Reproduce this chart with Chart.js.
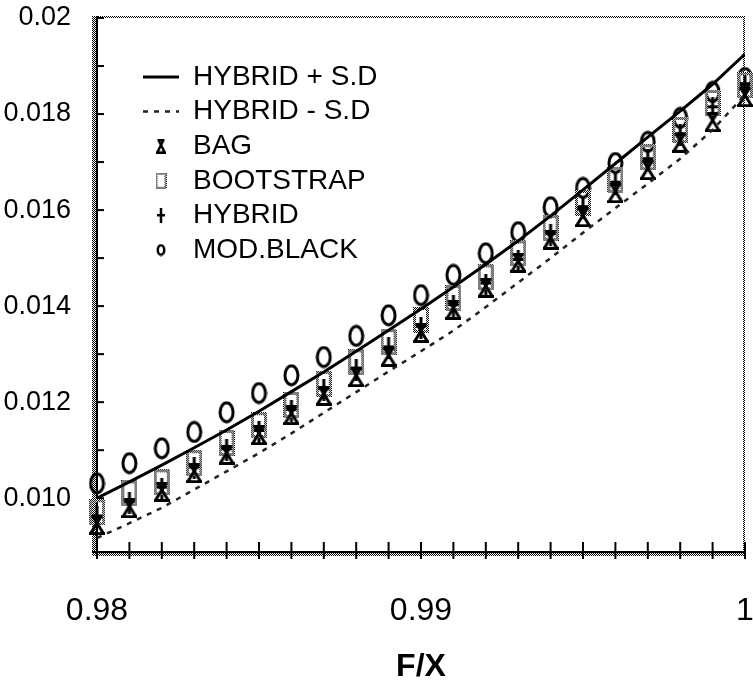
<!DOCTYPE html>
<html>
<head>
<meta charset="utf-8">
<script src="https://cdn.jsdelivr.net/npm/chart.js@4.4.0/dist/chart.umd.min.js"></script>
<style>
  html, body { margin: 0; padding: 0; background: #fff; overflow: hidden; }
</style>
</head>
<body>
<canvas id="chart" width="753" height="681"></canvas>
<script>
// values
const fxValues = [0.980, 0.981, 0.982, 0.983, 0.984, 0.985, 0.986, 0.987, 0.988, 0.989, 0.990,
                  0.991, 0.992, 0.993, 0.994, 0.995, 0.996, 0.997, 0.998, 0.999, 1.000];
const hybridPlusSD = [0.01000, 0.01034, 0.01069, 0.01105, 0.01142, 0.01181, 0.01222, 0.01263, 0.01306, 0.01350, 0.01394,
                      0.01440, 0.01487, 0.01536, 0.01588, 0.01642, 0.01697, 0.01752, 0.01806, 0.01862, 0.01925];
const hybridMinusSD = [0.00917, 0.00948, 0.00980, 0.01018, 0.01056, 0.01094, 0.01135, 0.01178, 0.01221, 0.01264, 0.01306,
                       0.01349, 0.01398, 0.01449, 0.01500, 0.01553, 0.01604, 0.01655, 0.01707, 0.01767, 0.01840];
const bagValues = [0.00944, 0.00979, 0.01013, 0.01052, 0.01090, 0.01131, 0.01173, 0.01213, 0.01252, 0.01294, 0.01344,
                   0.01392, 0.01438, 0.01490, 0.01538, 0.01585, 0.01635, 0.01683, 0.01740, 0.01783, 0.01835];
const bootstrapValues = [0.00971, 0.01010, 0.01033, 0.01073, 0.01115, 0.01152, 0.01194, 0.01238, 0.01283, 0.01325, 0.01371,
                         0.01417, 0.01460, 0.01510, 0.01563, 0.01615, 0.01663, 0.01710, 0.01767, 0.01823, 0.01860];
const hybridValues = [0.00960, 0.00990, 0.01020, 0.01062, 0.01100, 0.01138, 0.01182, 0.01225, 0.01268, 0.01312, 0.01355,
                      0.01400, 0.01445, 0.01494, 0.01548, 0.01604, 0.01655, 0.01704, 0.01756, 0.01812, 0.01860];
const modBlackValues = [0.01031, 0.01073, 0.01104, 0.01138, 0.01179, 0.01219, 0.01256, 0.01294, 0.01338, 0.01381, 0.01423,
                        0.01465, 0.01510, 0.01554, 0.01606, 0.01646, 0.01698, 0.01742, 0.01792, 0.01846, 0.01875];
const seriesNames = ['HYBRID + S.D', 'HYBRID - S.D', 'BAG', 'BOOTSTRAP', 'HYBRID', 'MOD.BLACK'];

const FONT = "'Liberation Sans', Arial, Helvetica, sans-serif";

function toPoints(ys) {
    return ys.map(function (y, i) { return { x: fxValues[i], y: y }; });
}

function isMult(v, step) {
    return Math.abs(v / step - Math.round(v / step)) < 1e-6;
}

// 2x2 dither, gives the grey "screened" look of the scanned frame
const checker = (function () {
    const c = document.createElement('canvas');
    c.width = 2; c.height = 2;
    const g = c.getContext('2d');
    g.fillStyle = '#fff'; g.fillRect(0, 0, 2, 2);
    g.fillStyle = '#000'; g.fillRect(0, 0, 1, 1); g.fillRect(1, 1, 1, 1);
    return c;
})();

function icon(w, h, paint) {
    const c = document.createElement('canvas');
    c.width = w; c.height = h;
    paint(c.getContext('2d'), w, h);
    return c;
}

function ovalMark(w, h, lw) {
    return icon(w, h, function (g) {
        g.strokeStyle = '#000'; g.lineWidth = lw;
        g.beginPath();
        g.ellipse(w / 2, h / 2, w / 2 - lw / 2 - 0.5, h / 2 - lw / 2 - 0.5, 0, 0, Math.PI * 2);
        g.stroke();
    });
}

function boxMark(w, h, lw) {
    return icon(w, h, function (g) {
        g.strokeStyle = g.createPattern(checker, 'repeat');
        g.lineWidth = lw;
        g.strokeRect(lw / 2, lw / 2, w - lw, h - lw);
    });
}

function plusMark(w, h, lw) {
    return icon(w, h, function (g) {
        g.fillStyle = '#000';
        g.fillRect((w - lw) / 2, 0, lw, h);
        g.fillRect(0, Math.round(h * 0.38), w, lw);
    });
}

function bagMark(w, h, lw) {
    return icon(w, h, function (g) {
        g.strokeStyle = '#000'; g.lineWidth = lw;
        g.beginPath();
        g.moveTo(w * 0.15, lw / 2); g.lineTo(w * 0.85, lw / 2);
        g.moveTo(w * 0.25, lw / 2); g.lineTo(w - lw / 2, h - lw / 2);
        g.moveTo(w * 0.75, lw / 2); g.lineTo(lw / 2, h - lw / 2);
        g.moveTo(0, h - lw / 2); g.lineTo(w, h - lw / 2);
        g.stroke();
    });
}

const plotMarks = [null, null, bagMark(16, 20, 3), boxMark(16, 26, 3), plusMark(14, 22, 3), ovalMark(17, 23, 3)];
const legendMarks = ['line', 'line', bagMark(10, 15, 2.5), boxMark(11, 16, 2), plusMark(8, 15, 2.5), ovalMark(10, 13, 2.5)];

const frame = {
    id: 'frame',
    afterLayout(chart) {
        // put the key inside the plot, upper left
        const lg = chart.legend;
        lg.left = 136.4;
        lg.top = 56.4;
        lg.right = chart.chartArea.right;
        lg.bottom = chart.chartArea.bottom;
    },
    beforeDatasetsDraw(chart) {
        const { ctx, chartArea: a, scales } = chart;
        ctx.save();
        ctx.fillStyle = ctx.createPattern(checker, 'repeat');
        ctx.fillRect(a.left - 5, a.top - 2, 5, a.bottom - a.top + 6);
        ctx.fillRect(a.left - 5, a.bottom, a.right - a.left + 5, 4);
        ctx.fillRect(a.left, a.top - 2, a.right - a.left, 2);
        ctx.fillRect(a.right - 2, a.top - 2, 2, a.bottom - a.top + 2);
        ctx.fillStyle = '#000';
        ctx.fillRect(a.left - 1, a.top - 2, 2, a.bottom - a.top + 4);
        ctx.fillRect(a.left - 5, a.bottom - 1, a.right - a.left + 5, 2);
        scales.x.ticks.forEach(function (t) {
            if (!isMult(t.value, 0.001)) return;
            const px = scales.x.getPixelForValue(t.value);
            ctx.fillRect(px - 1, a.bottom - 10, 2, 17);
        });
        scales.y.ticks.forEach(function (t) {
            if (!isMult(t.value, 0.001)) return;
            const py = scales.y.getPixelForValue(t.value);
            ctx.fillRect(a.left, py - 1, 7, 2);
        });
        ctx.restore();
    }
};

const datasets = [
    {
        label: seriesNames[0], data: toPoints(hybridPlusSD),
        borderColor: '#000', borderWidth: 3, pointRadius: 0, pointStyle: 'line'
    },
    {
        label: seriesNames[1], data: toPoints(hybridMinusSD),
        borderColor: '#222', borderWidth: 2.5, borderDash: [5, 6], pointRadius: 0, pointStyle: 'line'
    }
];
[bagValues, bootstrapValues, hybridValues, modBlackValues].forEach(function (vals, k) {
    datasets.push({
        label: seriesNames[k + 2], data: toPoints(vals),
        showLine: false, pointStyle: plotMarks[k + 2], pointRadius: 8,
        borderWidth: 0, clip: false
    });
});

new Chart(document.getElementById('chart'), {
    type: 'line',
    data: { datasets: datasets },
    plugins: [frame],
    options: {
        responsive: false,
        animation: false,
        layout: { padding: { top: 18, right: 0, bottom: 0, left: 0 } },
        plugins: {
            tooltip: { enabled: false },
            legend: {
                position: 'chartArea',
                align: 'start',
                labels: {
                    usePointStyle: true,
                    pointStyleWidth: 36,
                    padding: 6.6,
                    color: '#000',
                    font: { family: FONT, size: 28 },
                    generateLabels(chart) {
                        return chart.data.datasets.map(function (ds, i) {
                            return {
                                text: ds.label,
                                datasetIndex: i,
                                fillStyle: '#000',
                                strokeStyle: ds.borderColor || '#000',
                                lineWidth: i < 2 ? ds.borderWidth : 0,
                                lineDash: ds.borderDash || [],
                                pointStyle: legendMarks[i],
                                fontColor: '#000',
                                hidden: false
                            };
                        });
                    }
                }
            }
        },
        scales: {
            x: {
                type: 'linear',
                min: 0.98,
                max: 1.0,
                grid: { display: false },
                border: { display: false },
                ticks: {
                    stepSize: 0.001,
                    autoSkip: false,
                    maxRotation: 0,
                    padding: 32,
                    color: '#000',
                    font: { family: FONT, size: 32 },
                    callback(v) { return isMult(v, 0.01) ? String(+v.toFixed(2)) : ''; }
                },
                title: {
                    display: true,
                    text: 'F/X',
                    color: '#000',
                    font: { family: FONT, size: 32, weight: 'bold' },
                    padding: { top: 20, bottom: -5 }
                },
                afterFit(s) { s.height = 129; s.paddingLeft = 0; s.paddingRight = 0; }
            },
            y: {
                min: 0.00888,
                max: 0.02,
                grid: { display: false },
                border: { display: false },
                ticks: {
                    stepSize: 0.001,
                    autoSkip: false,
                    padding: 18,
                    color: '#000',
                    font: { family: FONT, size: 27 },
                    callback(v) {
                        if (!isMult(v, 0.002)) return '';
                        return Math.abs(v - 0.02) < 1e-9 ? '0.02' : v.toFixed(3);
                    }
                },
                afterFit(s) { s.width = 97; s.paddingTop = 0; s.paddingBottom = 0; }
            }
        }
    }
});
</script>
</body>
</html>
